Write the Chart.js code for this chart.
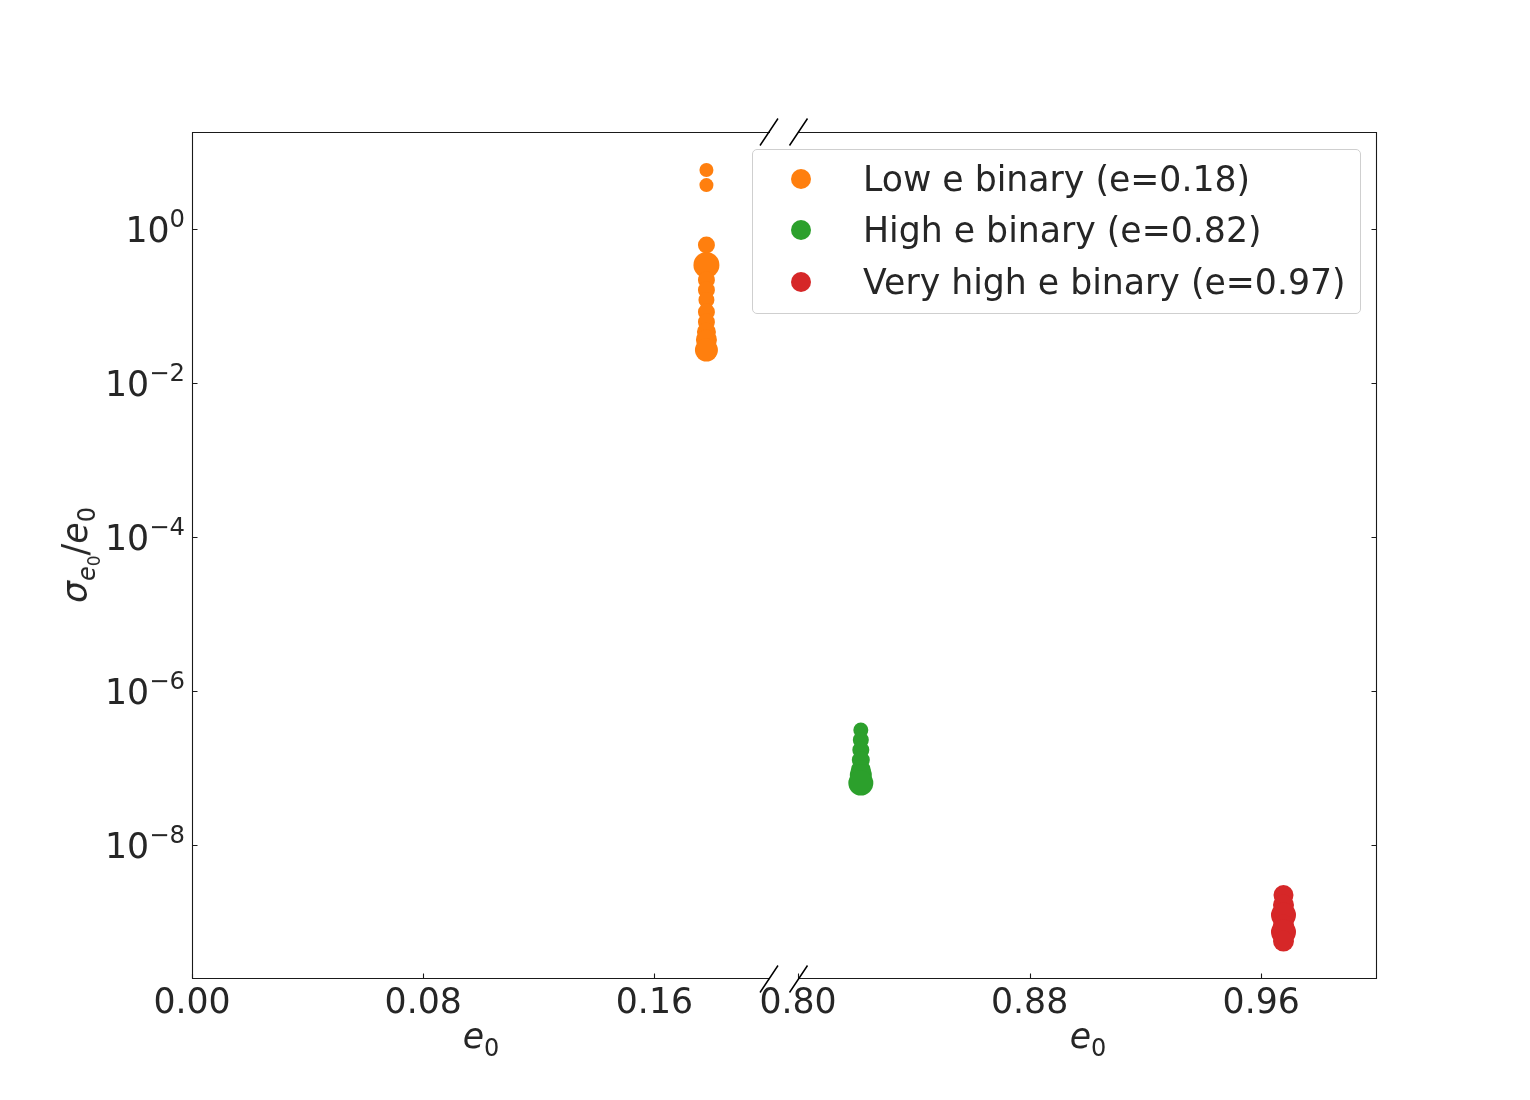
<!DOCTYPE html>
<html><head><meta charset="utf-8">
<script src="https://cdn.jsdelivr.net/npm/chart.js@4.4.1/dist/chart.umd.min.js"></script>
<style>
html,body{margin:0;padding:0;background:#fff;}
#wrap{position:relative;width:1530px;height:1100px;overflow:hidden;font-family:"DejaVu Sans";color:#262626;background:#fff}
canvas{position:absolute;top:0}
.xt{position:absolute;font-size:34.7px;line-height:34px;white-space:nowrap;transform:translateX(-50%)}
.it{font-style:italic}
.sub{font-size:24px;position:relative;top:8px;font-style:normal}
.ssub{font-size:17px;position:relative;top:5px;font-style:normal}
#ytitle{position:absolute;font-size:34.7px;line-height:34px;white-space:nowrap;transform:translate(-50%,-50%) rotate(-90deg)}
#legend{position:absolute;left:752px;top:149px;width:609px;height:165px;box-sizing:border-box;border:1px solid #cfcfcf;border-radius:5px;background:rgba(255,255,255,0.8)}
.lrow{position:absolute;left:0;height:40px;transform:translateY(-50%);width:600px}
.ldot{position:absolute;left:38px;top:10px;width:20px;height:20px;border-radius:50%}
.ltxt{position:absolute;left:110px;top:0;line-height:40px;font-size:34.7px;white-space:nowrap;color:#262626}
</style></head>
<body><div id="wrap">
<canvas id="cl" width="790" height="1100" style="left:0px"></canvas>
<canvas id="cr" width="830" height="1100" style="left:700px"></canvas>
<div id="legend"></div>
<div class="xt" style="left:481px;top:1019px"><span class="it">e</span><span class="sub">0</span></div>
<div class="xt" style="left:1088px;top:1019px"><span class="it">e</span><span class="sub">0</span></div>
<div id="ytitle" style="left:78px;top:555px"><span class="it">σ</span><span class="sub"><span class="it">e</span><span class="ssub">0</span></span>/<span class="it">e</span><span class="sub">0</span></div>
</div>
<script>
// ---------- data ----------
const seriesNames = ['Low e binary (e=0.18)', 'High e binary (e=0.82)', 'Very high e binary (e=0.97)'];
const seriesColors = ['#ff7f0e', '#2ca02c', '#d62728'];

const lowX = [0.178, 0.178, 0.178, 0.178, 0.178, 0.178, 0.178, 0.178, 0.178, 0.178, 0.178, 0.178];
const lowY = [5.85, 3.72, 0.62, 0.341, 0.218, 0.161, 0.120, 0.0836, 0.062, 0.046, 0.0362, 0.0268];
const lowSize = [7, 7, 8.5, 13, 8.5, 8.5, 8, 8.5, 8.5, 9.5, 10.5, 11.5];

const highX = [0.8217, 0.8217, 0.8217, 0.8217, 0.8217, 0.8217, 0.8217];
const highY = [3.12e-7, 2.31e-7, 1.71e-7, 1.27e-7, 9.42e-8, 8.1e-8, 6.38e-8];
const highSize = [7.5, 8, 8.5, 9, 10, 11, 12.5];

const vhighX = [0.9677, 0.9677, 0.9677, 0.9677, 0.9677, 0.9677];
const vhighY = [2.24e-9, 1.66e-9, 1.23e-9, 9.14e-10, 7.41e-10, 5.66e-10];
const vhighSize = [10, 10.5, 12.5, 10.5, 12.5, 10.5];

const leftXTicks = [0.00, 0.08, 0.16];
const rightXTicks = [0.80, 0.88, 0.96];
const yTickExps = [0, -2, -4, -6, -8];
const leftXRange = [0, 0.2];
const rightXRange = [0.8, 1.0];
const yRange = [1.82e-10, 18.2];

// ---------- legend ----------
const legendEl = document.getElementById('legend');
const rowTops = [29, 80, 132];
seriesNames.forEach((n, i) => {
  const r = document.createElement('div');
  r.className = 'lrow';
  r.style.top = rowTops[i] + 'px';
  r.innerHTML = '<div class="ldot" style="background:' + seriesColors[i] + '"></div><div class="ltxt">' + n + '</div>';
  legendEl.appendChild(r);
});

// ---------- frame plugin ----------
const INK = '#1a1a1a';
const framePlugin = {
  id: 'frame',
  afterDraw(chart, args, o) {
    const ctx = chart.ctx, a = chart.chartArea;
    const L = Math.round(a.left) + 0.5, R = Math.round(a.right) - 0.5;
    const T = Math.round(a.top) + 0.5, B = Math.round(a.bottom) - 0.5;
    ctx.save();
    ctx.strokeStyle = INK; ctx.lineWidth = 1.1; ctx.lineCap = 'butt';
    ctx.beginPath();
    ctx.moveTo(a.left, T); ctx.lineTo(a.right, T);
    ctx.moveTo(a.left, B); ctx.lineTo(a.right, B);
    if (o.side === 'left') { ctx.moveTo(L, a.top); ctx.lineTo(L, a.bottom); }
    else { ctx.moveTo(R, a.top); ctx.lineTo(R, a.bottom); }
    ctx.stroke();
    // ticks
    const xs = chart.scales.x, ys = chart.scales.y;
    const tl = 5;
    ctx.beginPath();
    xs.ticks.forEach(t => {
      const px = Math.round(xs.getPixelForValue(t.value)) + 0.5;
      ctx.moveTo(px, B); ctx.lineTo(px, B - tl);
    });
    ys.ticks.forEach(t => {
      const py = Math.round(ys.getPixelForValue(t.value)) + 0.5;
      if (o.side === 'left') { ctx.moveTo(L, py); ctx.lineTo(L + tl, py); }
      else { ctx.moveTo(R, py); ctx.lineTo(R - tl, py); }
    });
    ctx.stroke();
    // break slashes
    const bx = o.side === 'left' ? a.right - 1 : a.left + 0.5;
    ctx.lineWidth = 1.5; ctx.strokeStyle = '#000';
    ctx.beginPath();
    [a.top, a.bottom].forEach(by => {
      ctx.moveTo(bx - 9, by + 13.5); ctx.lineTo(bx + 9, by - 13.5);
    });
    ctx.stroke();
    // y tick labels (left only)
    if (o.side === 'left') {
      ctx.fillStyle = '#262626';
      ctx.textBaseline = 'alphabetic';
      ctx.textAlign = 'left';
      yTickExps.forEach(e => {
        const py = ys.getPixelForValue(Math.pow(10, e));
        const expStr = e === 0 ? '0' : '\u2212' + (-e);
        ctx.font = '24.3px "DejaVu Sans"';
        const ew = ctx.measureText(expStr).width;
        ctx.font = '34.7px "DejaVu Sans"';
        const bw = ctx.measureText('10').width;
        const right = a.left - 7;
        const baseY = py + 13;
        ctx.fillText('10', right - ew - bw, baseY);
        ctx.font = '24.3px "DejaVu Sans"';
        ctx.fillText(expStr, right - ew, baseY - 15);
      });
    }
    ctx.restore();
  }
};

function mk(xArr, yArr, sArr, color) {
  return {
    data: yArr.map((y, i) => ({ x: xArr[i], y: y })),
    backgroundColor: color, borderColor: color,
    pointRadius: sArr, pointHoverRadius: sArr, pointBorderWidth: 0, borderWidth: 0
  };
}

function xScale(range, ticks) {
  return {
    type: 'linear', min: range[0], max: range[1], position: 'bottom',
    grid: { display: false, drawTicks: false }, border: { display: false },
    ticks: { font: { family: 'DejaVu Sans', size: 34.7 }, color: '#262626', padding: 4, maxRotation: 0, autoSkip: false,
      callback: v => Number(v).toFixed(2) },
    afterBuildTicks: s => { s.ticks = ticks.map(v => ({ value: v })); },
    afterFit: s => { s.height = 121; s.paddingLeft = 0; s.paddingRight = 0; }
  };
}
function yScale(pos, w) {
  return {
    type: 'logarithmic', min: yRange[0], max: yRange[1], position: pos,
    grid: { display: false, drawTicks: false }, border: { display: false },
    ticks: { display: false },
    afterBuildTicks: s => { s.ticks = yTickExps.map(e => ({ value: Math.pow(10, e) })); },
    afterFit: s => { s.width = w; s.paddingTop = 0; s.paddingBottom = 0; }
  };
}
const common = {
  responsive: false, animation: false, devicePixelRatio: 1,
  plugins: { legend: { display: false }, tooltip: { enabled: false } }
};

new Chart(document.getElementById('cl'), {
  type: 'scatter',
  data: { datasets: [mk(lowX, lowY, lowSize, seriesColors[0])] },
  options: Object.assign({}, common, {
    layout: { padding: { top: 132, right: 20, left: 0, bottom: 0 } },
    scales: { x: xScale(leftXRange, leftXTicks), y: yScale('left', 192) },
    plugins: Object.assign({}, common.plugins, { frame: { side: 'left' } })
  }),
  plugins: [framePlugin]
});

new Chart(document.getElementById('cr'), {
  type: 'scatter',
  data: { datasets: [mk(highX, highY, highSize, seriesColors[1]), mk(vhighX, vhighY, vhighSize, seriesColors[2])] },
  options: Object.assign({}, common, {
    layout: { padding: { top: 132, right: 0, left: 98, bottom: 0 } },
    scales: { x: xScale(rightXRange, rightXTicks), y: yScale('right', 153) },
    plugins: Object.assign({}, common.plugins, { frame: { side: 'right' } })
  }),
  plugins: [framePlugin]
});
</script>
</body></html>
